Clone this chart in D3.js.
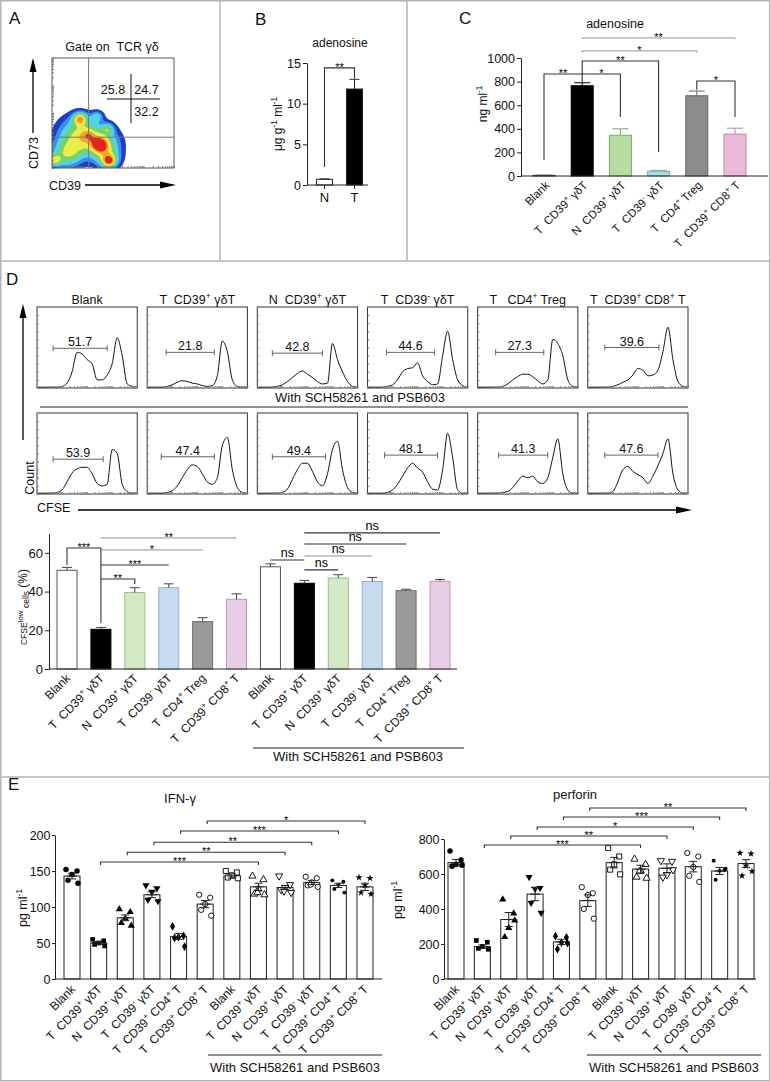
<!DOCTYPE html>
<html lang="en">
  <head>
    <meta charset="UTF-8" />
    <title>CD39 γδT adenosine figure</title>
    <script src="https://cdn.jsdelivr.net/npm/d3@7/dist/d3.min.js"></script>
    <style>
      body { margin: 0; background: #fff; }
      text { white-space: pre; }
    </style>
  </head>
  <body>
    <div id='app'></div>
    <script>
  // ---------- data ----------
  // A: flow density hotspots [CD39 %, CD73 %, weight, spread]
  const flowHotspots = [
    [22, 30, 0.55, 12], [42, 22, 0.5, 10], [12, 12, 0.45, 9], [46, 8, 0.4, 7],
    [23, 45, 0.55, 4], [39, 21, 0.5, 4], [47, 6, 0.45, 3.5], [2, 7, 0.45, 3.5],
    [37, 47, 0.3, 3.5], [46, 36, 0.3, 3.5], [30, 30, 0.2, 4]
  ]
  const quadValues = ['25.8', '24.7', '32.2']

  // B
  const bGroups = ['N', 'T']
  const bMeans = [0.7, 11.8]
  const bErr = [0.05, 1.2]

  // C
  const cGroups = ['Blank', 'T  CD39^+ γδT', 'N  CD39^+ γδT', 'T  CD39^- γδT', 'T  CD4^+ Treg', 'T  CD39^+ CD8^+ T']
  const cMeans = [5, 765, 345, 40, 680, 355]
  const cErr = [2, 25, 55, 8, 40, 50]
  const cTicks = [0, 200, 400, 600, 800, 1000]
  // [from, to, label, line, left leg end, right leg end, thin]
  const cSig = [
    [0, 1, '**', 865, 135, 790, 0], [1, 2, '*', 865, 865, 500, 0],
    [1, 3, '**', 975, 865, 203, 0], [1, 4, '*', 1060, 1045, 1045, 1],
    [1, 5, '**', 1170, 1160, 1160, 1], [4, 5, '*', 805, 730, 500, 0]
  ]

  // D histograms (CFSE channel 0-100, count %)
  const histTitles = ['Blank', 'T  CD39^+ γδT', 'N  CD39^+ γδT', 'T  CD39^- γδT', 'T   CD4^+ Treg', 'T  CD39^+ CD8^+ T']
  const cfseChannel = [0, 5, 10, 15, 20, 25, 30, 35, 40, 45, 50, 55, 60, 65, 70, 75, 80, 85, 90, 95, 100]
  const histRow1 = [
    [1, 1, 1, 1, 1, 2, 6, 20, 44, 42, 35, 30, 10, 10, 16, 30, 62, 40, 5, 2, 1],
    [1, 1, 1, 1, 2, 4, 7, 9, 8, 6, 5, 3, 2, 3, 15, 58, 45, 10, 2, 1, 1],
    [1, 1, 1, 1, 2, 4, 8, 13, 18, 21, 17, 13, 8, 5, 6, 55, 35, 20, 8, 2, 1],
    [1, 1, 1, 1, 2, 4, 10, 20, 24, 25, 31, 15, 8, 4, 5, 40, 70, 35, 10, 3, 1],
    [1, 1, 1, 1, 1, 2, 5, 10, 14, 17, 17, 14, 9, 5, 10, 60, 55, 40, 10, 2, 1],
    [1, 1, 1, 1, 1, 2, 4, 7, 10, 16, 24, 22, 15, 16, 22, 45, 75, 35, 8, 2, 1]
  ]
  const histRow2 = [
    [1, 1, 1, 1, 2, 5, 15, 26, 31, 33, 33, 25, 13, 10, 12, 55, 50, 12, 3, 1, 1],
    [1, 1, 1, 1, 2, 4, 10, 20, 30, 36, 34, 25, 15, 12, 20, 60, 70, 30, 8, 2, 1],
    [1, 1, 1, 1, 1, 2, 6, 18, 30, 38, 38, 28, 15, 10, 25, 55, 65, 30, 8, 2, 1],
    [1, 1, 1, 1, 2, 5, 12, 22, 32, 38, 32, 27, 15, 6, 5, 30, 75, 45, 5, 1, 1],
    [1, 1, 1, 1, 1, 2, 3, 8, 16, 22, 20, 22, 15, 13, 20, 45, 68, 25, 5, 1, 1],
    [1, 1, 1, 1, 1, 3, 15, 30, 34, 28, 24, 20, 13, 22, 35, 50, 68, 25, 5, 1, 1]
  ]
  const gateRow1 = ['51.7', '21.8', '42.8', '44.6', '27.3', '39.6']
  const gateRow2 = ['53.9', '47.4', '49.4', '48.1', '41.3', '47.6']
  const gateRangeRow1 = [[16, 70], [19, 67], [15, 65], [19, 67], [18, 66], [17, 71]]
  const gateRangeRow2 = [[16, 66], [14, 67], [15, 68], [17, 70], [21, 70], [17, 70]]
  const gateLevelRow1 = [49, 44, 43, 44, 44, 50]
  const gateLevelRow2 = [43, 46, 46, 48, 48, 48]

  // D bars
  const dGroups = ['Blank', 'T  CD39^+ γδT', 'N  CD39^+ γδT', 'T  CD39^- γδT', 'T  CD4^+ Treg', 'T  CD39^+ CD8^+ T',
    'Blank', 'T  CD39^+ γδT', 'N  CD39^+ γδT', 'T  CD39^- γδT', 'T  CD4^+ Treg', 'T  CD39^+ CD8^+ T']
  const dMeans = [51, 20.5, 39.5, 42, 24.5, 36, 52.8, 44.3, 47, 45.2, 40.5, 45.3]
  const dErr = [1.5, 1, 2.5, 2, 2, 2.8, 1.5, 1.5, 1.7, 2.1, 0.7, 0.9]
  const dTicks = [0, 20, 40, 60]
  const dSig = [
    [0, 1, '***', 62.5, 53.7, 23.8, 0], [1, 2, '**', 46.5, 46.5, 43.9, 0],
    [1, 3, '***', 53.7, 53.7, 53.7, 0], [1, 4, '*', 61.5, 61.5, 61.5, 1],
    [1, 5, '**', 67.7, 67.7, 67.7, 1],
    [6, 7, 'ns', 56.3, 56.3, 56.3, 0], [7, 8, 'ns', 51.2, 51.2, 51.2, 0],
    [7, 9, 'ns', 58.4, 58.4, 58.4, 1], [7, 10, 'ns', 64.6, 64.6, 64.6, 0],
    [7, 11, 'ns', 70.3, 70.3, 70.3, 0]
  ]

  // E
  const eGroups = ['Blank', 'T  CD39^+ γδT', 'N  CD39^+ γδT', 'T  CD39^- γδT', 'T  CD39^+ CD4^+ T', 'T  CD39^+ CD8^+ T',
    'Blank', 'T  CD39^+ γδT', 'N  CD39^+ γδT', 'T  CD39^- γδT', 'T  CD39^+ CD4^+ T', 'T  CD39^+ CD8^+ T']
  const ifnMeans = [143, 50, 85, 117, 59, 104, 143, 128, 127, 134, 130, 128]
  const ifnSem = [4, 2, 4, 4, 4, 5, 3, 5, 3, 3, 3, 5]
  const ifnDots = [
    [152, 150, 145, 137, 133], [55, 53, 50, 48, 46], [97, 93, 84, 78, 74],
    [130, 126, 121, 110, 108], [73, 60, 58, 57, 45], [117, 113, 104, 96, 88],
    [150, 148, 144, 141, 140], [143, 138, 125, 118, 117, 120], [143, 131, 127, 124, 120, 122],
    [142, 140, 134, 130, 128, 131], [137, 135, 131, 125, 120], [141, 140, 130, 120, 118]
  ]
  const ifnTicks = [0, 50, 100, 150, 200]
  const ifnSig = [[1, 7, '***', 162.5], [2, 8, '**', 176], [3, 9, '**', 190], [4, 10, '***', 205.5], [5, 11, '*', 219.5]]

  const perfMeans = [665, 185, 340, 485, 212, 448, 665, 628, 633, 642, 617, 660]
  const perfSem = [18, 10, 40, 38, 15, 33, 30, 22, 25, 30, 20, 22]
  const perfDots = [
    [732, 680, 655, 645, 650], [220, 210, 186, 175, 170], [455, 375, 292, 240, 335],
    [582, 520, 515, 435, 378], [245, 238, 208, 170, 205], [525, 490, 480, 400, 345],
    [748, 700, 655, 625, 598], [685, 655, 620, 582, 576, 615], [676, 672, 595, 582, 624],
    [720, 700, 640, 590, 555], [676, 624, 618, 567, 630], [720, 716, 647, 590, 615]
  ]
  const perfTicks = [0, 200, 400, 600, 800]
  const perfSig = [[1, 7, '***', 766], [2, 8, '**', 817], [3, 9, '*', 869], [4, 10, '***', 926], [5, 11, '**', 977]]

  // ---------- helpers ----------
  const FONT = 'Arial, "Liberation Sans", sans-serif'
  const cFill = ['#ffffff', '#000000', '#b6dca2', '#a8dde0', '#8c8c8c', '#ebb8d8']
  const cStroke = ['#444', '#000', '#7fa86c', '#6aaeb2', '#666', '#b98aa8']
  const dFill = ['#ffffff', '#000000', '#d3e9c6', '#c6dbf0', '#9a9a9a', '#e8cde6']
  const dStroke = ['#555', '#000', '#9cbf8a', '#8fb0d0', '#707070', '#b99ab5']

  const svg = d3.select('#app').append('svg')
    .attr('width', 771).attr('height', 1082)
    .attr('font-family', FONT)

  // rich text: ^x or ^{..} superscript, _{..} subscript
  function rich(sel, str, size) {
    const re = /\^\{([^}]*)\}|\^(.)|_\{([^}]*)\}/g
    const parts = []
    let last = 0, m
    while ((m = re.exec(str))) {
      if (m.index > last) parts.push({ t: str.slice(last, m.index), k: 0 })
      if (m[3] != null) parts.push({ t: m[3], k: -1 })
      else parts.push({ t: m[1] != null ? m[1] : m[2], k: 1 })
      last = re.lastIndex
    }
    if (last < str.length) parts.push({ t: str.slice(last), k: 0 })
    let shift = 0
    parts.forEach(p => {
      const target = p.k === 1 ? -size * 0.4 : p.k === -1 ? size * 0.25 : 0
      sel.append('tspan').attr('dy', target - shift)
        .attr('font-size', p.k ? size * 0.68 : size).text(p.t)
      shift = target
    })
    return sel
  }

  function yAxis(x, scale, ticks, size, tick) {
    svg.append('g').attr('transform', `translate(${x},0)`)
      .call(d3.axisLeft(scale).tickValues(ticks).tickFormat(d3.format('d'))
        .tickSize(tick || 4).tickSizeOuter(0).tickPadding(tick ? 1.5 : 2))
      .attr('font-family', FONT).attr('font-size', size)
      .call(g => g.selectAll('text').attr('fill', '#111'))
      .call(g => g.selectAll('line,path').attr('stroke', '#222'))
  }

  function xAxisLine(x1, x2, y, xs) {
    svg.append('line').attr('x1', x1).attr('x2', x2).attr('y1', y).attr('y2', y).attr('stroke', '#222')
    xs.forEach(cx => svg.append('line').attr('x1', cx).attr('x2', cx).attr('y1', y).attr('y2', y + 4).attr('stroke', '#222'))
  }

  function rotLabels(xs, labels, y0, size, dx) {
    labels.forEach((l, i) => {
      const t = svg.append('text')
        .attr('transform', `translate(${xs[i] + dx},${y0}) rotate(-45)`)
        .attr('text-anchor', 'end').attr('fill', '#111')
      rich(t, l, size)
    })
  }

  function yLabel(x, y, str, size) {
    const t = svg.append('text').attr('transform', `translate(${x},${y}) rotate(-90)`)
      .attr('text-anchor', 'middle').attr('fill', '#111')
    rich(t, str, size)
  }

  function bracket(x1, x2, y, y1, y2, label, thin) {
    const p = d3.path()
    p.moveTo(x1, y1); p.lineTo(x1, y); p.lineTo(x2, y); p.lineTo(x2, y2)
    svg.append('path').attr('d', p.toString()).attr('fill', 'none')
      .attr('stroke', thin ? '#888' : '#333').attr('stroke-width', thin ? 0.9 : 1.1)
    const ns = label === 'ns'
    svg.append('text').attr('x', (x1 + x2) / 2).attr('y', ns ? y - 3 : y + 3)
      .attr('text-anchor', 'middle').attr('font-size', ns ? 12.5 : 11).attr('fill', '#000').text(label)
  }

  function label(x, y, str, size, anchor) {
    const t = svg.append('text').attr('x', x).attr('y', y).attr('font-size', size)
      .attr('text-anchor', anchor || 'middle').attr('fill', '#111')
    return rich(t, str, size)
  }

  function arrowHead(x, y, dir) {
    const pts = dir === 'up' ? [[x, y], [x - 3.5, y + 14], [x + 3.5, y + 14]]
      : [[x, y], [x - 16, y - 3.5], [x - 16, y + 3.5]]
    svg.append('polygon').attr('points', pts.map(p => p.join(',')).join(' ')).attr('fill', '#000')
  }

  // ---------- panel frames ----------
  const frame = svg.append('g').attr('stroke', '#b3b3b3').attr('stroke-width', 1.5).attr('fill', 'none')
  frame.append('rect').attr('x', 0.75).attr('y', 0.75).attr('width', 769).attr('height', 1080)
  frame.append('line').attr('x1', 0).attr('x2', 770).attr('y1', 261).attr('y2', 261)
  frame.append('line').attr('x1', 0).attr('x2', 770).attr('y1', 777).attr('y2', 777)
  frame.append('line').attr('x1', 220).attr('x2', 220).attr('y1', 0).attr('y2', 261)
  frame.append('line').attr('x1', 407).attr('x2', 407).attr('y1', 0).attr('y2', 261)

  label(9, 24, 'A', 17, 'start')
  label(255, 25, 'B', 17, 'start')
  label(459, 24, 'C', 17, 'start')
  label(6, 285, 'D', 17, 'start')
  label(8, 790, 'E', 17, 'start')

  // ---------- A: density plot ----------
  const aX = d3.scaleLinear().domain([0, 100]).range([52, 174])
  const aY = d3.scaleLinear().domain([0, 100]).range([168, 58])
  const nx = 62, ny = 56
  const grid = new Array(nx * ny)
  for (let j = 0; j < ny; j++) {
    for (let i = 0; i < nx; i++) {
      const gx = i / (nx - 1) * 100, gy = 100 - j / (ny - 1) * 100
      let v = 0
      flowHotspots.forEach(([hx, hy, w, s]) => {
        v += w * Math.exp(-((gx - hx) ** 2 + (gy - hy) ** 2) / (2 * s * s))
      })
      grid[j * nx + i] = v
    }
  }
  const aLevels = [0.1, 0.2, 0.3, 0.42, 0.55, 0.68, 0.8]
  const aColors = ['#1e3fc4', '#3b8ef0', '#4fd3e8', '#72d46a', '#ecec48', '#f6a626', '#e2261a']
  const gridX = d3.scaleLinear().domain([0.5, nx - 0.5]).range([aX(0), aX(100)])
  const gridY = d3.scaleLinear().domain([0.5, ny - 0.5]).range([aY(100), aY(0)])
  const contourPath = d3.geoPath(d3.geoTransform({
    point(x, y) { this.stream.point(gridX(x), gridY(y)) }
  }))
  svg.append('clipPath').attr('id', 'aclip').append('rect')
    .attr('x', aX(0)).attr('y', aY(100)).attr('width', aX(100) - aX(0)).attr('height', aY(0) - aY(100))
  svg.append('g').attr('clip-path', 'url(#aclip)')
    .selectAll('path').data(d3.contours().size([nx, ny]).thresholds(aLevels)(grid))
    .join('path').attr('d', contourPath).attr('fill', (d, i) => aColors[i])
  svg.append('rect').attr('x', aX(0)).attr('y', aY(100)).attr('width', aX(100) - aX(0))
    .attr('height', aY(0) - aY(100)).attr('fill', 'none').attr('stroke', '#555')
  // log-decade minor ticks on the box
  const aLog = d3.scaleLog().domain([1, 1e4])
  svg.append('g').attr('transform', `translate(0,${aY(0)})`)
    .call(d3.axisBottom(aLog.copy().range([aX(0), aX(100)])).tickSize(-2).tickFormat('').tickSizeOuter(0))
    .call(g => g.select('.domain').remove()).selectAll('line').attr('stroke', '#777')
  svg.append('g').attr('transform', `translate(${aX(0)},0)`)
    .call(d3.axisLeft(aLog.copy().range([aY(0), aY(100)])).tickSize(-2).tickFormat('').tickSizeOuter(0))
    .call(g => g.select('.domain').remove()).selectAll('line').attr('stroke', '#777')
  // quadrant gates
  svg.append('line').attr('x1', aX(30)).attr('x2', aX(30)).attr('y1', aY(100)).attr('y2', aY(0)).attr('stroke', '#777')
  svg.append('line').attr('x1', aX(0)).attr('x2', aX(100)).attr('y1', aY(28)).attr('y2', aY(28)).attr('stroke', '#777')
  svg.append('line').attr('x1', 131).attr('x2', 131).attr('y1', 74).attr('y2', 123).attr('stroke', '#111')
  svg.append('line').attr('x1', 107).attr('x2', 160).attr('y1', 99).attr('y2', 99).attr('stroke', '#111')
  label(113, 94, quadValues[0], 12.5)
  label(146.5, 94, quadValues[1], 12.5)
  label(146.5, 116, quadValues[2], 12.5)
  label(112, 51, 'Gate on  TCR γδ', 12.5)
  svg.append('line').attr('x1', 33).attr('x2', 33).attr('y1', 133).attr('y2', 68).attr('stroke', '#000').attr('stroke-width', 1.3)
  arrowHead(33, 58, 'up')
  yLabel(38, 153, 'CD73', 12.5)
  label(49, 190, 'CD39', 12.5, 'start')
  svg.append('line').attr('x1', 85).attr('x2', 162).attr('y1', 185).attr('y2', 185).attr('stroke', '#000').attr('stroke-width', 1.3)
  arrowHead(176, 185, 'right')

  // ---------- B ----------
  const bX = d3.scalePoint().domain(bGroups).range([324.5, 354.5])
  const bY = d3.scaleLinear().domain([0, 15]).range([185, 63])
  label(340, 47, 'adenosine', 12)
  yAxis(307, bY, [0, 5, 10, 15], 12.5)
  bGroups.forEach((g, i) => {
    const cx = bX(g)
    svg.append('rect').attr('x', cx - 8).attr('width', 16).attr('y', bY(bMeans[i]))
      .attr('height', bY(0) - bY(bMeans[i])).attr('fill', i ? '#000' : '#fff').attr('stroke', '#222')
    svg.append('line').attr('x1', cx).attr('x2', cx).attr('y1', bY(bMeans[i])).attr('y2', bY(bMeans[i] + bErr[i])).attr('stroke', '#222')
    svg.append('line').attr('x1', cx - 5).attr('x2', cx + 5).attr('y1', bY(bMeans[i] + bErr[i])).attr('y2', bY(bMeans[i] + bErr[i])).attr('stroke', '#222')
  })
  xAxisLine(307, 368, bY(0), bGroups.map(bX))
  bGroups.forEach(g => label(bX(g), 202, g, 13))
  yLabel(282, 124, 'μg g^{-1} ml^{-1}', 12)
  bracket(bX('N'), bX('T'), bY(14.4), bY(2.2), bY(13.1), '**', 0)

  // ---------- C ----------
  const cX = d3.scalePoint().domain(d3.range(cGroups.length)).range([544, 735])
  const cY = d3.scaleLinear().domain([0, 1000]).range([176, 58])
  label(615, 28, 'adenosine', 12.5)
  yAxis(521, cY, cTicks, 12.5)
  cMeans.forEach((v, i) => {
    const cx = cX(i)
    svg.append('rect').attr('x', cx - 11).attr('width', 22).attr('y', cY(v)).attr('height', cY(0) - cY(v))
      .attr('fill', cFill[i]).attr('stroke', cStroke[i])
    svg.append('line').attr('x1', cx).attr('x2', cx).attr('y1', cY(v)).attr('y2', cY(v + cErr[i])).attr('stroke', cStroke[i])
    svg.append('line').attr('x1', cx - 8).attr('x2', cx + 8).attr('y1', cY(v + cErr[i])).attr('y2', cY(v + cErr[i])).attr('stroke', cStroke[i])
  })
  xAxisLine(521, 768, cY(0), [])
  rotLabels(cGroups.map((g, i) => cX(i)), cGroups, 186, 11.5, 6)
  yLabel(487, 104, 'ng ml^{-1}', 12)
  cSig.forEach(([a, b, l, y, ya, yb, thin]) => bracket(cX(a), cX(b), cY(y), cY(ya), cY(yb), l, thin))

  // ---------- D histograms ----------
  const boxX = d3.scaleBand().domain(d3.range(6)).range([37, 688]).paddingInner(0.09)
  const rowTop = [307, 413]
  const boxH = 81
  const hx = d3.scaleLinear().domain([0, 100]).range([0, boxX.bandwidth()])
  const hy = d3.scaleLinear().domain([0, 100]).range([boxH, 0])
  const histLine = d3.line().x((d, i) => hx(cfseChannel[i])).y(d => hy(d)).curve(d3.curveMonotoneX)
  const rows = [[histRow1, gateRow1, gateRangeRow1, gateLevelRow1], [histRow2, gateRow2, gateRangeRow2, gateLevelRow2]]
  rows.forEach(([hist, gates, ranges, levels], r) => {
    hist.forEach((series, c) => {
      const g = svg.append('g').attr('transform', `translate(${boxX(c)},${rowTop[r]})`)
      g.append('path').attr('d', histLine(series)).attr('fill', 'none').attr('stroke', '#111').attr('stroke-width', 1)
      g.append('rect').attr('width', boxX.bandwidth()).attr('height', boxH).attr('fill', 'none').attr('stroke', '#333')
      g.append('g').attr('transform', `translate(0,${boxH})`)
        .call(d3.axisBottom(aLog.copy().range([0, boxX.bandwidth()])).tickSize(-2).tickFormat('').tickSizeOuter(0))
        .call(s => s.select('.domain').remove()).selectAll('line').attr('stroke', '#888')
      g.append('g')
        .call(d3.axisLeft(hy).ticks(8).tickSize(-2).tickFormat('').tickSizeOuter(0))
        .call(s => s.select('.domain').remove()).selectAll('line').attr('stroke', '#888')
      const [g0, g1] = ranges[c]
      const gy = hy(levels[c])
      g.append('line').attr('x1', hx(g0)).attr('x2', hx(g1)).attr('y1', gy).attr('y2', gy).attr('stroke', '#666')
      ;[g0, g1].forEach(v => g.append('line').attr('x1', hx(v)).attr('x2', hx(v)).attr('y1', gy - 3).attr('y2', gy + 3).attr('stroke', '#666'))
      g.append('text').attr('x', hx((g0 + g1) / 2)).attr('y', gy - 2).attr('text-anchor', 'middle')
        .attr('font-size', 12.5).attr('fill', '#111').text(gates[c])
    })
  })
  histTitles.forEach((t, c) => label(boxX(c) + boxX.bandwidth() / 2, 304, t, 12.5))
  label(360, 402, 'With SCH58261 and PSB603', 13)
  svg.append('line').attr('x1', 40).attr('x2', 688).attr('y1', 407).attr('y2', 407).attr('stroke', '#222')
  svg.append('line').attr('x1', 23).attr('x2', 23).attr('y1', 440).attr('y2', 316).attr('stroke', '#000').attr('stroke-width', 1.3)
  arrowHead(23, 304, 'up')
  yLabel(34, 478, 'Count', 12.5)
  label(37, 512, 'CFSE', 12.5, 'start')
  svg.append('line').attr('x1', 78).attr('x2', 678).attr('y1', 510).attr('y2', 510).attr('stroke', '#000').attr('stroke-width', 1.3)
  arrowHead(692, 510, 'right')

  // ---------- D bars ----------
  const dX = d3.scalePoint().domain(d3.range(dGroups.length)).range([67, 440])
  const dY = d3.scaleLinear().domain([0, 70]).range([669, 533.5])
  yAxis(49, dY, dTicks, 13)
  dMeans.forEach((v, i) => {
    const cx = dX(i), k = i % 6
    svg.append('rect').attr('x', cx - 10).attr('width', 20).attr('y', dY(v)).attr('height', dY(0) - dY(v))
      .attr('fill', dFill[k]).attr('stroke', dStroke[k])
    svg.append('line').attr('x1', cx).attr('x2', cx).attr('y1', dY(v)).attr('y2', dY(v + dErr[i])).attr('stroke', '#444')
    svg.append('line').attr('x1', cx - 5).attr('x2', cx + 5).attr('y1', dY(v + dErr[i])).attr('y2', dY(v + dErr[i])).attr('stroke', '#444')
  })
  xAxisLine(49, 457, dY(0), [])
  rotLabels(dGroups.map((g, i) => dX(i)), dGroups, 679, 12, 4)
  const dl = svg.append('text').attr('transform', 'translate(27,607) rotate(-90)').attr('text-anchor', 'middle').attr('fill', '#111')
  dl.append('tspan').attr('font-size', 8.5).text('CFSE')
  dl.append('tspan').attr('font-size', 8).attr('dy', -4).text('low')
  dl.append('tspan').attr('font-size', 8.5).attr('dy', 6).text(' cells')
  dl.append('tspan').attr('font-size', 12).attr('dy', -2).text(' (%)')
  dSig.forEach(([a, b, l, y, ya, yb, thin]) => bracket(dX(a), dX(b), dY(y), dY(ya), dY(yb), l, thin))
  svg.append('line').attr('x1', 253).attr('x2', 464).attr('y1', 748).attr('y2', 748).attr('stroke', '#222')
  label(358, 761, 'With SCH58261 and PSB603', 13)

  // ---------- E ----------
  const symTypes = [d3.symbolCircle, d3.symbolSquare, d3.symbolTriangle, d3.symbolTriangle, d3.symbolDiamond, d3.symbolCircle,
    d3.symbolSquare, d3.symbolTriangle, d3.symbolTriangle, d3.symbolCircle, d3.symbolCircle, d3.symbolStar]
  const symFilled = [1, 1, 1, 1, 1, 0, 0, 0, 0, 0, 1, 1]
  const symFlip = [0, 0, 0, 1, 0, 0, 0, 0, 1, 0, 0, 0]
  const symSize = [24, 22, 22, 22, 22, 22, 26, 22, 22, 22, 12, 16]
  const jitter = [-6, 5, 0, -4, 6, -1]

  function dotPanel(o) {
    const x = d3.scalePoint().domain(d3.range(eGroups.length)).range(o.xr)
    const y = d3.scaleLinear().domain(o.domain).range([979, o.top])
    const bw = 16
    label(o.titleX, o.titleY, o.title, 13)
    yAxis(o.axisX, y, o.ticks, 12.5, 3)
    o.means.forEach((v, i) => {
      const cx = x(i)
      svg.append('rect').attr('x', cx - bw / 2).attr('width', bw).attr('y', y(v)).attr('height', y(0) - y(v))
        .attr('fill', '#fff').attr('stroke', '#333').attr('stroke-width', 1.1)
      o.dots[i].forEach((d, j) => {
        svg.append('path')
          .attr('d', d3.symbol(symTypes[i], symSize[i])())
          .attr('transform', `translate(${cx + jitter[j]},${y(d)}) rotate(${symFlip[i] ? 180 : 0})`)
          .attr('fill', symFilled[i] ? '#000' : '#fff').attr('stroke', '#000').attr('stroke-width', symFilled[i] ? 0 : 0.9)
      })
      const lo = y(v - o.sem[i]), hi = y(v + o.sem[i])
      svg.append('line').attr('x1', cx).attr('x2', cx).attr('y1', lo).attr('y2', hi).attr('stroke', '#222')
      ;[lo, hi].forEach(yy => svg.append('line').attr('x1', cx - 4).attr('x2', cx + 4).attr('y1', yy).attr('y2', yy).attr('stroke', '#222'))
      svg.append('line').attr('x1', cx - 5).attr('x2', cx + 5).attr('y1', y(v)).attr('y2', y(v)).attr('stroke', '#222')
    })
    xAxisLine(o.axisX, o.xEnd, y(0), [])
    rotLabels(eGroups.map((g, i) => x(i)), eGroups, 990, 12, 4)
    yLabel(o.labX, o.labY, 'pg ml^{-1}', 12.5)
    o.sig.forEach(([a, b, l, v]) => {
      const yy = y(v)
      bracket(x(a) + 2, x(b), yy, yy + 3, yy + 3, l, 0)
    })
    svg.append('line').attr('x1', o.withX[0]).attr('x2', o.withX[1]).attr('y1', 1055).attr('y2', 1055).attr('stroke', '#222')
    label((o.withX[0] + o.withX[1]) / 2, 1072, 'With SCH58261 and PSB603', 13)
  }

  dotPanel({
    xr: [72, 365], domain: [0, 200], top: 835, ticks: ifnTicks, means: ifnMeans, sem: ifnSem, dots: ifnDots,
    sig: ifnSig, axisX: 55, xEnd: 382, title: 'IFN-γ', titleX: 180, titleY: 803, labX: 27, labY: 908, withX: [208, 382]
  })
  dotPanel({
    xr: [456, 746], domain: [0, 800], top: 839, ticks: perfTicks, means: perfMeans, sem: perfSem, dots: perfDots,
    sig: perfSig, axisX: 444, xEnd: 756, title: 'perforin', titleX: 575, titleY: 799, labX: 402, labY: 900, withX: [587, 761]
  })
    </script>
  </body>
</html>
